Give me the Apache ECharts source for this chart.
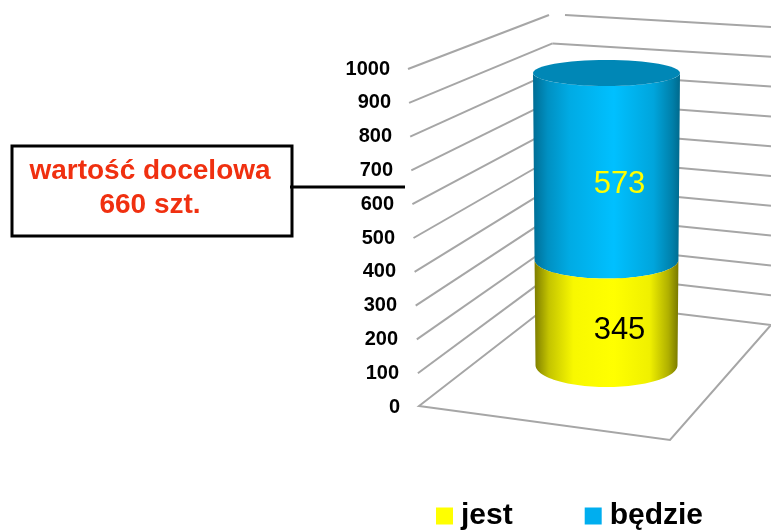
<!DOCTYPE html>
<html>
<head>
<meta charset="utf-8">
<title>wartość docelowa</title>
<script src="https://cdn.jsdelivr.net/npm/echarts@6/dist/echarts.min.js"></script>
<style>
  html, body { margin: 0; padding: 0; background: #fff; }
  #chart { width: 771px; height: 532px; }
</style>
</head>
<body>
<div id="chart"></div>
<script>
var categories = ['']
var jest = [345]
var bedzie = [573]
var ticks = [0, 100, 200, 300, 400, 500, 600, 700, 800, 900, 1000]
var legendNames = ['jest', 'będzie']
var calloutLines = 'wartość docelowa\n660 szt.'

var AXIS_FONT = 'bold 20px "Liberation Sans", Arial, sans-serif'
var VALUE_FONT = '31px "Liberation Sans", Arial, sans-serif'
var GRID_LINE = { stroke: '#a6a6a6', lineWidth: 2, fill: 'none' }

/* one wall line: left edge -> back corner -> right edge of the page */
function renderWalls(params, api) {
  var v = api.value(1)
  var t = v / 1000
  var y = api.coord([0, v])[1]
  var leftX = 419 - 11 * t
  var corner = [557 - 5 * t, 299 - 284 * t]
  var rightY = 325 - 298 * t
  var children = []
  var leftEnd = v === 1000 ? [corner[0] - 3, corner[1]] : corner
  var rightStart = v === 1000 ? [corner[0] + 13, corner[1]] : corner

  if (v === 0) {
    children.push({
      type: 'polygon',
      shape: { points: [[leftX, y], [670, 440], [771, rightY], corner] },
      style: GRID_LINE
    })
  } else {
    children.push({
      type: 'polyline',
      shape: { points: [[leftX, y + 1], leftEnd] },
      style: GRID_LINE
    })
    children.push({
      type: 'polyline',
      shape: { points: [rightStart, [771, rightY]] },
      style: GRID_LINE
    })
  }
  children.push({
    type: 'text',
    style: {
      text: String(v),
      x: 400 - 10 * t,
      y: y + 1,
      font: AXIS_FONT,
      fill: '#000',
      align: 'right',
      verticalAlign: 'middle'
    }
  })
  return { type: 'group', children: children }
}

/* one slice of the cylinder, between two stacked values */
function cylinderRenderer(stops, labelColor, withTop) {
  return function (params, api) {
    var from = api.value(1)
    var to = api.value(2)
    var total = jest[0] + bedzie[0]
    var band = api.size([1, 0])[0]
    var cx = api.coord([0, 0])[0]

    // the 3D box is not quite linear, bend the hidden axis a little
    function yOf(v) {
      var s = v / total
      return api.coord([0, v])[1] + 20 * s * (1 - s)
    }
    function rx(v) { return band / 2 * (0.966 + 0.034 * v / total) }
    function ry(v) { return 22 - 9 * v / total }

    var points = []
    var i, a
    for (i = 0; i <= 60; i++) {
      a = Math.PI * i / 60
      points.push([cx - rx(from) * Math.cos(a), yOf(from) + ry(from) * Math.sin(a)])
    }
    for (i = 60; i >= 0; i--) {
      a = Math.PI * i / 60
      points.push([cx - rx(to) * Math.cos(a), yOf(to) + ry(to) * Math.sin(a)])
    }
    var children = [{
      type: 'polygon',
      shape: { points: points },
      style: { fill: new echarts.graphic.LinearGradient(0, 0, 1, 0, stops) }
    }]
    if (withTop) {
      children.push({
        type: 'ellipse',
        shape: { cx: cx, cy: yOf(to), rx: rx(to), ry: ry(to) },
        style: { fill: '#0087b6' }
      })
    }
    children.push({
      type: 'text',
      style: {
        text: String(to - from),
        x: cx + 13,
        y: (yOf(from) + yOf(to)) / 2 + 18,
        font: VALUE_FONT,
        fill: labelColor,
        align: 'center',
        verticalAlign: 'middle'
      }
    })
    return { type: 'group', children: children }
  }
}

var blueStops = [
  { offset: 0, color: '#006d94' },
  { offset: 0.1, color: '#0090c2' },
  { offset: 0.25, color: '#00abe4' },
  { offset: 0.55, color: '#00c0ff' },
  { offset: 0.82, color: '#00a5dc' },
  { offset: 0.95, color: '#007fa9' },
  { offset: 1, color: '#00698c' }
]
var yellowStops = [
  { offset: 0, color: '#7d7d00' },
  { offset: 0.1, color: '#c4c400' },
  { offset: 0.27, color: '#f8f800' },
  { offset: 0.55, color: '#ffff00' },
  { offset: 0.8, color: '#f0f000' },
  { offset: 0.93, color: '#b0b000' },
  { offset: 1, color: '#787800' }
]

var chart = echarts.init(document.getElementById('chart'), null, { renderer: 'canvas' })
chart.setOption({
  animation: false,
  backgroundColor: '#fff',
  grid: [
    { left: 409, top: 68, width: 143, height: 338 },
    { left: 533, top: 73, width: 147, height: 292 }
  ],
  xAxis: [
    { gridIndex: 0, type: 'category', data: categories, show: false },
    { gridIndex: 1, type: 'category', data: categories, show: false }
  ],
  yAxis: [
    { gridIndex: 0, type: 'value', min: 0, max: 1000, interval: 100, show: false },
    { gridIndex: 1, type: 'value', min: 0, max: jest[0] + bedzie[0], show: false }
  ],
  legend: {
    data: legendNames,
    left: 431,
    top: 496,
    icon: 'rect',
    itemWidth: 17,
    itemHeight: 17,
    itemGap: 72,
    selectedMode: false,
    textStyle: {
      fontFamily: '"Liberation Sans", Arial, sans-serif',
      fontWeight: 'bold',
      fontSize: 30,
      color: '#000',
      padding: [0, 0, 0, 3]
    }
  },
  graphic: [
    {
      type: 'rect',
      shape: { x: 12, y: 146, width: 280, height: 90 },
      style: { fill: '#fff', stroke: '#000', lineWidth: 3 }
    },
    {
      type: 'line',
      shape: { x1: 290, y1: 187, x2: 405, y2: 187 },
      style: { stroke: '#000', lineWidth: 3 }
    },
    {
      type: 'text',
      x: 150,
      y: 188,
      style: {
        text: calloutLines,
        font: 'bold 28px "Liberation Sans", Arial, sans-serif',
        lineHeight: 34,
        fill: '#f03010',
        align: 'center',
        verticalAlign: 'middle'
      }
    }
  ],
  series: [
    {
      type: 'custom',
      xAxisIndex: 0,
      yAxisIndex: 0,
      z: 1,
      silent: true,
      data: ticks.map(function (v) { return [0, v] }),
      renderItem: renderWalls
    },
    {
      name: legendNames[0],
      type: 'custom',
      xAxisIndex: 1,
      yAxisIndex: 1,
      z: 3,
      silent: true,
      itemStyle: { color: '#ffff00' },
      data: [[0, 0, jest[0]]],
      renderItem: cylinderRenderer(yellowStops, '#000', false)
    },
    {
      name: legendNames[1],
      type: 'custom',
      xAxisIndex: 1,
      yAxisIndex: 1,
      z: 2,
      silent: true,
      itemStyle: { color: '#00aeef' },
      data: [[0, jest[0], jest[0] + bedzie[0]]],
      renderItem: cylinderRenderer(blueStops, '#ffff00', true)
    }
  ]
})
</script>
</body>
</html>
